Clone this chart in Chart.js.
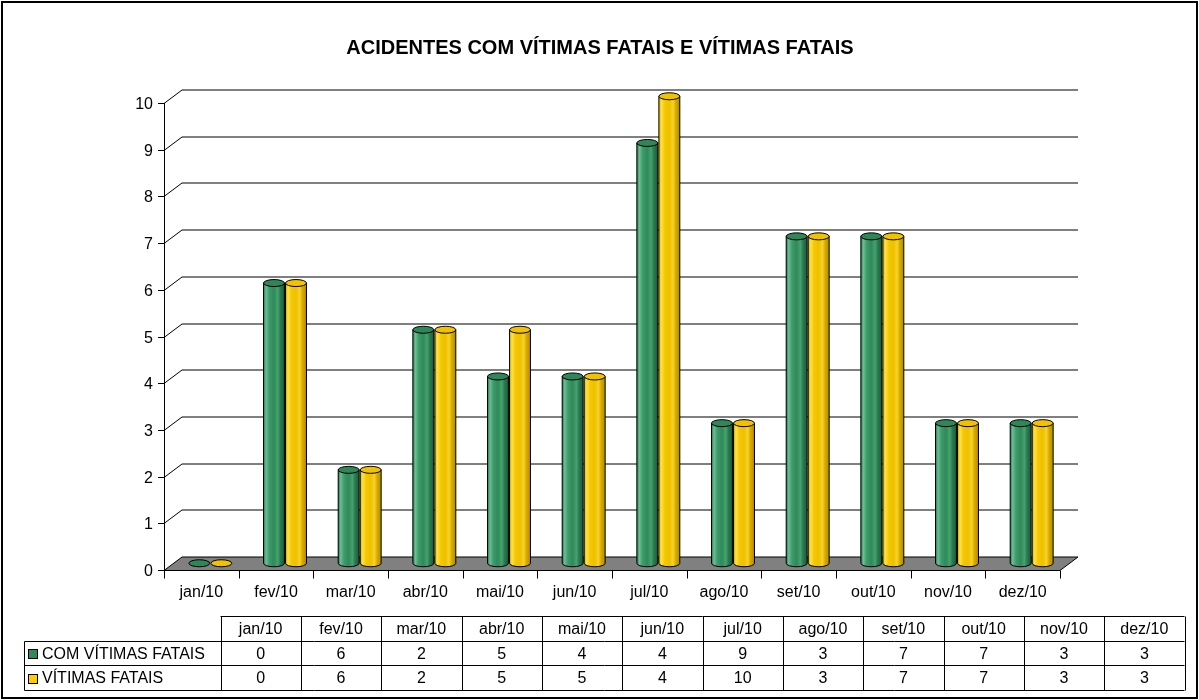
<!DOCTYPE html>
<html>
<head>
<meta charset="utf-8">
<script src="https://cdn.jsdelivr.net/npm/chart.js@4/dist/chart.umd.min.js"></script>
<style>
  html, body { margin: 0; padding: 0; background: #fff; }
  canvas { display: block; }
</style>
</head>
<body>
<canvas id="chart" width="1199" height="700"></canvas>
<script>
// data
var categories = ["jan/10", "fev/10", "mar/10", "abr/10", "mai/10", "jun/10",
                  "jul/10", "ago/10", "set/10", "out/10", "nov/10", "dez/10"];
var comVitimasFatais = [0, 6, 2, 5, 4, 4, 9, 3, 7, 7, 3, 3];
var vitimasFatais = [0, 6, 2, 5, 5, 4, 10, 3, 7, 7, 3, 3];
var seriesNames = ["COM VÍTIMAS FATAIS", "VÍTIMAS FATAIS"];
var yMin = 0, yMax = 10, yStep = 1;
var title = "ACIDENTES COM VÍTIMAS FATAIS E VÍTIMAS FATAIS";

var FONT = "Arial, 'Liberation Sans', sans-serif";
var DEPTH_X = 18, DEPTH_Y = -13.5;   // 3d depth of the floor / back wall

var palettes = [
  { // green
    stops: [[0, "#2b7b50"], [0.12, "#6cbf93"], [0.28, "#3d9a6a"], [0.5, "#2e8a5a"],
            [0.68, "#48a070"], [0.8, "#2a7d50"], [1, "#1c5a39"]],
    top: "#2f8658", key: "#2e8b57"
  },
  { // yellow
    stops: [[0, "#e0b400"], [0.12, "#ffe04a"], [0.28, "#f4c800"], [0.5, "#eec000"],
            [0.68, "#f8d22a"], [0.8, "#d8ad00"], [1, "#b08a00"]],
    top: "#f0c200", key: "#ffcc00"
  }
];

function drawCylinder(ctx, cx, topY, baseY, r, ry, pal) {
  var g = ctx.createLinearGradient(cx - r, 0, cx + r, 0);
  pal.stops.forEach(function (s) { g.addColorStop(s[0], s[1]); });
  ctx.lineWidth = 1;
  ctx.strokeStyle = "#000";
  if (baseY - topY > 0.5) {
    ctx.beginPath();
    ctx.moveTo(cx - r, topY);
    ctx.lineTo(cx - r, baseY);
    ctx.ellipse(cx, baseY, r, ry, 0, Math.PI, 0, true);
    ctx.lineTo(cx + r, topY);
    ctx.closePath();
    ctx.fillStyle = g;
    ctx.fill();
    ctx.stroke();
  }
  ctx.beginPath();
  ctx.ellipse(cx, topY, r, ry, 0, 0, Math.PI * 2);
  ctx.fillStyle = pal.top;
  ctx.fill();
  ctx.stroke();
}

var scene3d = {
  id: "scene3d",
  beforeDraw: function (chart) {
    var ctx = chart.ctx;
    ctx.save();
    ctx.fillStyle = "#fff";
    ctx.fillRect(0, 0, chart.width, chart.height);
    ctx.restore();
  },
  beforeDatasetsDraw: function (chart) {
    var ctx = chart.ctx, a = chart.chartArea;
    var ys = chart.scales.y, xs = chart.scales.x;
    ctx.save();
    ctx.lineWidth = 1;
    ctx.strokeStyle = "#000";
    // floor
    var y0 = Math.round(ys.getPixelForValue(0)) + 0.5;
    ctx.beginPath();
    ctx.moveTo(a.left, y0);
    ctx.lineTo(a.right, y0);
    ctx.lineTo(a.right + DEPTH_X, y0 + DEPTH_Y);
    ctx.lineTo(a.left + DEPTH_X, y0 + DEPTH_Y);
    ctx.closePath();
    ctx.fillStyle = "#808080";
    ctx.fill();
    ctx.stroke();
    // grid lines on side and back wall, ticks and labels
    ctx.font = "16px " + FONT;
    ctx.fillStyle = "#000";
    ctx.textAlign = "right";
    ctx.textBaseline = "middle";
    ys.ticks.forEach(function (t) {
      var y = Math.round(ys.getPixelForValue(t.value)) + 0.5;
      if (t.value > yMin) {
        ctx.beginPath();
        ctx.moveTo(a.left, y);
        ctx.lineTo(a.left + DEPTH_X, y + DEPTH_Y);
        ctx.lineTo(a.right + DEPTH_X, y + DEPTH_Y);
        ctx.stroke();
      }
      ctx.beginPath();
      ctx.moveTo(a.left - 6, y);
      ctx.lineTo(a.left, y);
      ctx.stroke();
      ctx.fillText(String(t.value), a.left - 11, y + 1);
    });
    // axes
    var xl = Math.round(a.left) + 0.5;
    ctx.beginPath();
    ctx.moveTo(xl, ys.getPixelForValue(yMax));
    ctx.lineTo(xl, y0);
    ctx.lineTo(a.right, y0);
    ctx.stroke();
    // category ticks and labels
    ctx.textAlign = "center";
    var n = categories.length, w = (a.right - a.left) / n;
    for (var i = 0; i <= n; i++) {
      var x = Math.round(a.left + i * w) + 0.5;
      ctx.beginPath();
      ctx.moveTo(x, y0);
      ctx.lineTo(x, y0 + 8);
      ctx.stroke();
    }
    categories.forEach(function (c, i) {
      ctx.fillText(c, xs.getPixelForValue(i), y0 + 22);
    });
    ctx.restore();
  },
  afterDatasetsDraw: function (chart) {
    var ctx = chart.ctx;
    var metas = [chart.getDatasetMeta(0), chart.getDatasetMeta(1)];
    ctx.save();
    for (var i = 0; i < categories.length; i++) {
      metas.forEach(function (m, k) {
        var bar = m.data[i];
        var r = bar.width / 2;
        drawCylinder(ctx, bar.x + DEPTH_X / 2, bar.y + DEPTH_Y / 2,
                     bar.base + DEPTH_Y / 2, r, 3.5, palettes[k]);
      });
    }
    ctx.restore();
  },
  afterDraw: function (chart) {
    var ctx = chart.ctx;
    ctx.save();
    // title
    ctx.fillStyle = "#000";
    ctx.font = "bold 20px " + FONT;
    ctx.textAlign = "center";
    ctx.textBaseline = "middle";
    ctx.fillText(title, 600, 48);
    // data table
    var left = 220.5, right = 1184.5, labelLeft = 24.5;
    var rows = [616.5, 641.5, 665.5, 690.5];
    var cw = (right - left) / categories.length;
    ctx.lineWidth = 1;
    ctx.strokeStyle = "#000";
    ctx.beginPath();
    ctx.moveTo(left, rows[0]); ctx.lineTo(right, rows[0]);
    ctx.moveTo(labelLeft, rows[1]); ctx.lineTo(right, rows[1]);
    ctx.moveTo(labelLeft, rows[2]); ctx.lineTo(right, rows[2]);
    ctx.moveTo(labelLeft, rows[3]); ctx.lineTo(right, rows[3]);
    ctx.moveTo(labelLeft, rows[1]); ctx.lineTo(labelLeft, rows[3]);
    for (var i = 0; i <= categories.length; i++) {
      var x = Math.round(left + i * cw) + 0.5;
      ctx.moveTo(x, rows[0]); ctx.lineTo(x, rows[3]);
    }
    ctx.stroke();
    ctx.font = "16px " + FONT;
    var values = [comVitimasFatais, vitimasFatais];
    categories.forEach(function (c, i) {
      var cx = left + (i + 0.5) * cw;
      ctx.fillText(c, cx, (rows[0] + rows[1]) / 2 + 1);
      values.forEach(function (arr, k) {
        ctx.fillText(String(arr[i]), cx, (rows[k + 1] + rows[k + 2]) / 2 + 1);
      });
    });
    ctx.textAlign = "left";
    seriesNames.forEach(function (name, k) {
      var cy = (rows[k + 1] + rows[k + 2]) / 2;
      ctx.fillStyle = palettes[k].key;
      ctx.fillRect(28, Math.round(cy - 4.5), 9, 9);
      ctx.strokeRect(28.5, Math.round(cy - 4.5) + 0.5, 9, 9);
      ctx.fillStyle = "#000";
      ctx.fillText(name, 42, cy + 1);
    });
    // outer border
    ctx.lineWidth = 2;
    ctx.strokeRect(2, 2, chart.width - 4, chart.height - 4);
    ctx.restore();
  }
};

new Chart(document.getElementById("chart"), {
  type: "bar",
  data: {
    labels: categories,
    datasets: [
      { label: seriesNames[0], data: comVitimasFatais, backgroundColor: "rgba(0,0,0,0)",
        borderWidth: 0, categoryPercentage: 0.59, barPercentage: 0.95 },
      { label: seriesNames[1], data: vitimasFatais, backgroundColor: "rgba(0,0,0,0)",
        borderWidth: 0, categoryPercentage: 0.59, barPercentage: 0.95 }
    ]
  },
  options: {
    responsive: false,
    animation: false,
    events: [],
    layout: { padding: { left: 164, right: 139, top: 103, bottom: 130 } },
    plugins: { legend: { display: false }, tooltip: { enabled: false }, title: { display: false } },
    scales: {
      x: { display: false },
      y: { display: false, min: yMin, max: yMax, ticks: { stepSize: yStep } }
    }
  },
  plugins: [scene3d]
});
</script>
</body>
</html>
